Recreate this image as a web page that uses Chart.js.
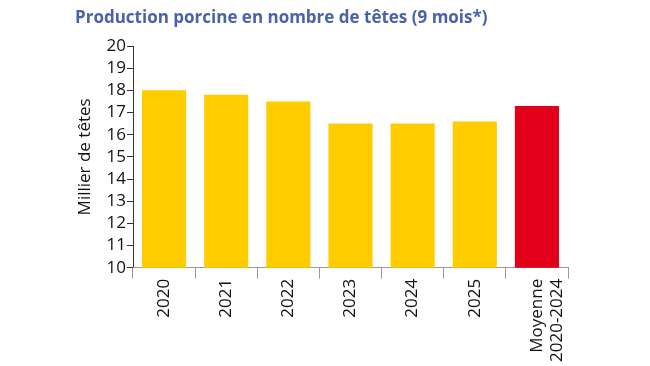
<!DOCTYPE html>
<html>
<head>
<meta charset="utf-8">
<script src="https://cdn.jsdelivr.net/npm/chart.js@4"></script>
<style>
  html, body { margin: 0; padding: 0; background: #fff; }
  #wrap { width: 650px; height: 366px; position: relative; }
</style>
</head>
<body>
<div id="wrap"><canvas id="chart"></canvas></div>
<script>
// data
const labels = ["2020", "2021", "2022", "2023", "2024", "2025", ["Moyenne", "2020-2024"]];
const values = [18.0, 17.8, 17.5, 16.5, 16.5, 16.6, 17.3];
const barColors = ["#ffcc00", "#ffcc00", "#ffcc00", "#ffcc00", "#ffcc00", "#ffcc00", "#e2001a"];
const titleText = "Production porcine en nombre de têtes (9 mois*)";
const yTitle = "Millier de têtes";

const fontFamily = "'Open Sans', 'Noto Sans', sans-serif";

//draw the title at the top left
const titlePlugin = {
  id: "topTitle",
  afterDraw(chart) {
    const ctx = chart.ctx;
    ctx.save();
    ctx.font = "bold 17px " + fontFamily;
    ctx.fillStyle = "#4a62a8";
    ctx.textBaseline = "middle";
    ctx.fillText(titleText, 75, 18);
    ctx.restore();
  },
};

const chart = new Chart(document.getElementById("chart"), {
  type: "bar",
  data: {
    labels: labels,
    datasets: [
      {
        data: values,
        backgroundColor: barColors,
        categoryPercentage: 1,
        barPercentage: 0.71,
      },
    ],
  },
  options: {
    responsive: true,
    maintainAspectRatio: false,
    animation: false,
    layout: { padding: { top: 46, right: 82, left: 75, bottom: 4 } },
    plugins: {
      legend: { display: false },
      title: { display: false },
      tooltip: { enabled: false },
    },
    scales: {
      y: {
        min: 10,
        max: 20,
        ticks: {
          stepSize: 1,
          autoSkip: false,
          color: "#111",
          font: { size: 17, family: fontFamily },
          padding: 1,
        },
        grid: {
          drawOnChartArea: false,
          drawTicks: true,
          tickLength: 6,
          color: "#333",
        },
        border: { color: "#333", width: 1 },
        title: {
          display: true,
          text: yTitle,
          color: "#111",
          font: { size: 17, family: fontFamily },
          padding: { top: 0, bottom: 0 },
        },
        afterFit(scale) {
          scale.width = 58;
        },
      },
      x: {
        ticks: {
          color: "#111",
          font: { size: 17, family: fontFamily },
          minRotation: 90,
          maxRotation: 90,
          padding: 0,
          autoSkip: false,
        },
        grid: {
          drawOnChartArea: false,
          drawTicks: true,
          tickLength: 11,
          color: "#999",
        },
        border: { color: "#999", width: 1 },
      },
    },
  },
  plugins: [titlePlugin],
});
</script>
</body>
</html>
